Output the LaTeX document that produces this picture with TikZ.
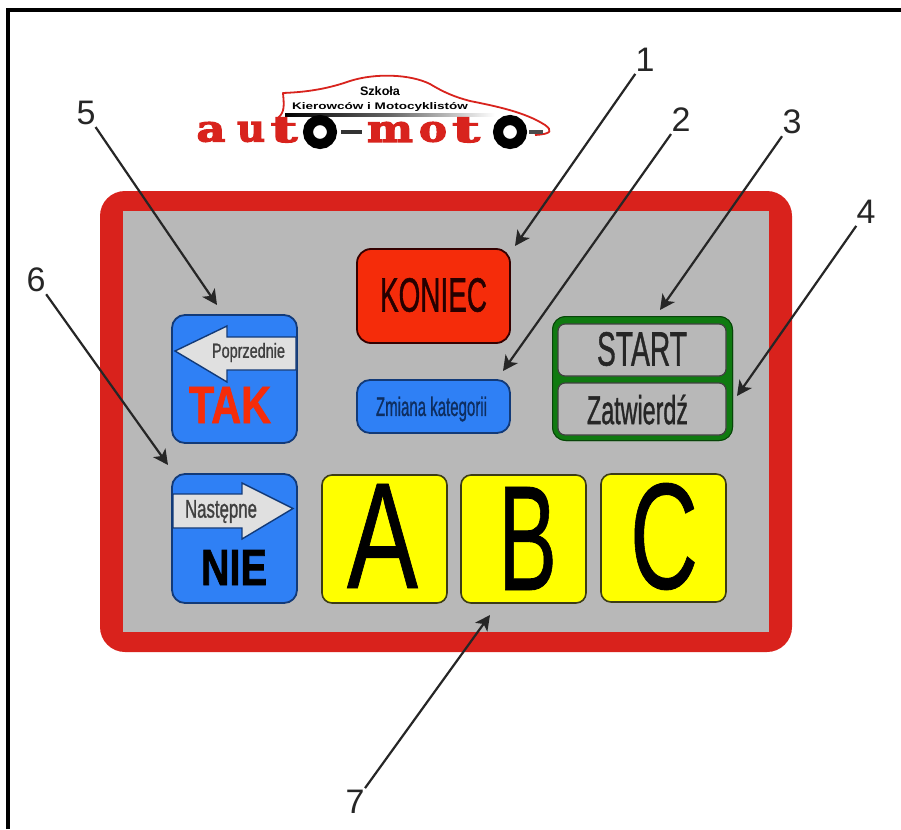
\documentclass[tikz,border=0pt]{standalone}
\usepackage{fontspec}
\usepackage{graphicx}
\setmainfont{Liberation Sans}
\newfontfamily\slabfont{DejaVu Serif Bold}[FakeBold=3]
\newfontfamily\thickfont{Liberation Sans}[FakeBold=1.2]
\newfontfamily\abcfont{Liberation Sans}[FakeBold=0.6]
\newfontfamily\heavyfont{Liberation Sans Bold}[FakeBold=1.5]
\usetikzlibrary{arrows.meta}
\definecolor{panelred}{HTML}{D9221C}
\definecolor{panelgray}{HTML}{B8B8B8}
\definecolor{keyblue}{HTML}{2F80F5}
\definecolor{keyedge}{HTML}{123A78}
\definecolor{keyred}{HTML}{F52C0A}
\definecolor{keygreen}{HTML}{0F7A10}
\definecolor{logored}{HTML}{D8231D}
\definecolor{keyyellow}{HTML}{FFFF00}
\definecolor{yellowedge}{HTML}{3C3C14}
\newcommand{\fitted}[3]{\resizebox*{#1pt}{#2pt}{\fontsize{40}{40}\selectfont #3}}
\tikzset{
  x=1pt,y=-1pt,
  keybox/.style={rounded corners=13pt,line width=1.8pt,draw=keyedge,fill=keyblue},
  yellowkey/.style={rounded corners=10pt,line width=1.6pt,draw=yellowedge,fill=keyyellow},
  graykey/.style={rounded corners=7pt,line width=1.2pt,draw=black!75,fill=panelgray},
  keyarrow/.style={fill=black!12,draw=keyedge,line width=1.4pt,line join=miter},
  lbl/.style={inner sep=0pt,outer sep=0pt},
  numlabel/.style={inner sep=2pt,font=\fontsize{34}{34}\selectfont,text=black!85},
  pointer/.style={draw=black!85,line width=2.2pt,-{Stealth[length=15pt,width=15pt,inset=4pt]}},
  logoletter/.style={inner sep=0pt,text=logored,font=\slabfont},
  wheel/.style={circle,draw=black,line width=10pt,fill=white,minimum size=24pt,inner sep=0pt},
}
\begin{document}
\begin{tikzpicture}
\useasboundingbox (0,0) rectangle (901,829);
\fill[white] (0,0) rectangle (901,829);
\draw[black,line width=4pt] (7.5,829) -- (7.5,10) -- (901,10);

% logo
\draw[logored,line width=1.8pt,line join=round]
  (278,118) .. controls (285,112) and (284,105) .. (283,93)
  .. controls (310,92) and (330,88) .. (350,81)
  .. controls (375,73) and (410,74) .. (430,84)
  .. controls (445,93) and (455,97) .. (470,101)
  .. controls (495,106) and (525,112) .. (545,125)
  .. controls (552,130) and (553,134) .. (535,135);
\node[lbl] (szkola) at (380,91) {\fitted{40}{9}{\bfseries Szkoła}};
\node[lbl] (kierowcow) at (380,106.5) {\fitted{176}{9}{\bfseries Kierowców i Motocyklistów}};
\shade[left color=black,right color=white,middle color=black!60] (285,113.5) rectangle (495,116.5);
\node[logoletter] (la) at (211,132) {\fitted{29}{20}{a}};
\node[logoletter] (lu) at (251,132) {\fitted{28}{20}{u}};
\node[logoletter] (lt) at (284,130) {\fitted{27}{25}{t}};
\node[wheel] (w1) at (320,132) {};
\fill[black!80] (341,130) rectangle (362,134);
\node[logoletter] (lm) at (390,132) {\fitted{46}{20}{m}};
\node[logoletter] (lo) at (433,132) {\fitted{28}{20}{o}};
\node[logoletter] (lt2) at (466,130) {\fitted{28}{25}{t}};
\node[wheel] (w2) at (510,132) {};
\fill[black!70] (529,130) rectangle (543,134);

% panel
\fill[panelred,rounded corners=25pt] (100,191) rectangle (792,652);
\fill[panelgray] (123,211) rectangle (769,632);

% KONIEC
\draw[rounded corners=14pt,line width=1.8pt,draw=black!80!red,fill=keyred] (357,249) rectangle (510,343);
\node[lbl,text=black!85!red] (koniec) at (433.5,295) {\fitted{107}{34}{\thickfont KONIEC}};

% Zmiana kategorii
\draw[keybox] (357,380) rectangle (510,433);
\node[lbl,text=keyedge!80!black] (zmiana) at (431.5,409) {\fitted{111}{25}{\thickfont Zmiana kategorii}};

% START / Zatwierdz
\fill[keygreen,rounded corners=14pt] (552,316) rectangle (733,441);
\draw[black!45!keygreen,line width=1pt,rounded corners=13pt] (552.5,316.5) rectangle (732.5,440.5);
\draw[graykey] (558,324) rectangle (726,376);
\draw[graykey] (558,383) rectangle (726,435);
\node[lbl,text=black!85] (start) at (642,349) {\fitted{90}{34}{\thickfont START}};
\node[lbl,text=black!85] (zatw) at (637.5,409.5) {\fitted{101}{30}{\thickfont Zatwierdź}};

% TAK
\draw[keybox] (172,315) rectangle (297,443);
\draw[keyarrow] (296,337) -- (227,337) -- (227,326) -- (175,351) -- (227,382) -- (227,370) -- (296,370) -- cycle;
\node[lbl,text=black!75] (poprz) at (248.5,352.5) {\fitted{73}{19}{\thickfont Poprzednie}};
\node[lbl,text=keyred] (tak) at (230,405) {\fitted{82}{36}{\heavyfont TAK}};

% NIE
\draw[keybox] (172,474) rectangle (297,603);
\draw[keyarrow] (173,494) -- (242,494) -- (242,483) -- (293,508.5) -- (242,539) -- (242,528) -- (173,528) -- cycle;
\node[lbl,text=black!75] (nast) at (221,511.5) {\fitted{72}{23}{\thickfont Następne}};
\node[lbl,text=black] (nie) at (234,567.5) {\fitted{66}{35}{\heavyfont NIE}};

% A B C
\draw[yellowkey] (322,475) rectangle (447,603);
\draw[yellowkey] (461,475) rectangle (586,603);
\draw[yellowkey] (601,474) rectangle (726,602);
\node[lbl] (a) at (382.5,536) {\fitted{71}{104}{\abcfont A}};
\node[lbl] (b) at (527.5,538.5) {\fitted{59}{103}{\abcfont B}};
\node[lbl] (c) at (664,536.5) {\fitted{68}{107}{\abcfont C}};

% numbers and pointers
\node[numlabel] (n1) at (645,60) {1};
\node[numlabel] (n2) at (681,120) {2};
\node[numlabel] (n3) at (792,122) {3};
\node[numlabel] (n4) at (866,212) {4};
\node[numlabel] (n5) at (86,113) {5};
\node[numlabel] (n6) at (36,280) {6};
\node[numlabel] (n7) at (355,802) {7};
\coordinate (t1) at (515,246);
\coordinate (t2) at (503,371);
\coordinate (t3) at (660,310);
\coordinate (t4) at (737,396);
\coordinate (t5) at (217,305);
\coordinate (t6) at (168,465);
\coordinate (t7) at (490,615);
\foreach \i in {1,...,7} \draw[pointer] (n\i) -- (t\i);
\end{tikzpicture}
\end{document}
